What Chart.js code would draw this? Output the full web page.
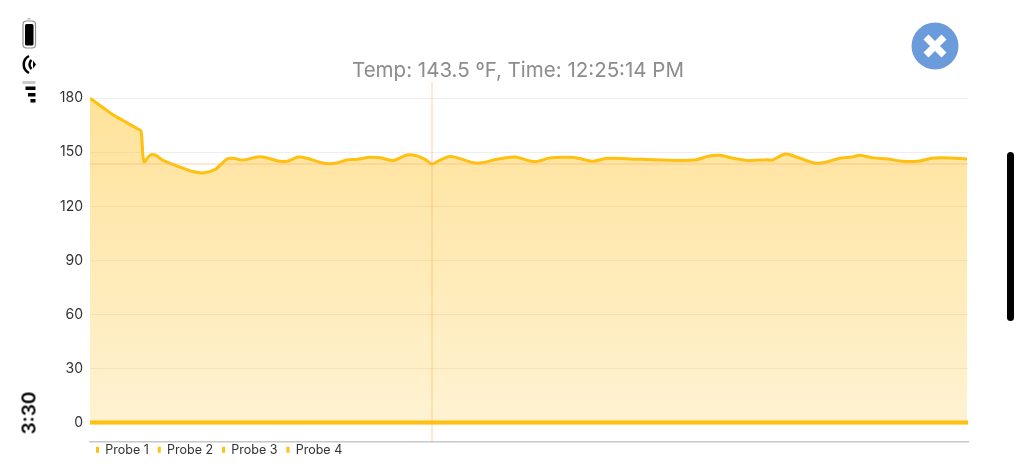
<!DOCTYPE html>
<html>
<head>
<meta charset="utf-8">
<style>
  html, body { margin: 0; padding: 0; background: #fff; overflow: hidden; }
  body { width: 1024px; height: 473px; position: relative; font-family: Inter, sans-serif; }
  #chartWrap { position: absolute; left: 12px; top: 0; width: 1012px; height: 473px; }
  #clock { position: absolute; left: 29px; top: 413px; transform: translate(-50%, -50%) rotate(-90deg); font-size: 19px; font-weight: 600; color: #000; }
  #scrollThumb { position: absolute; left: 1007px; top: 152px; width: 7px; height: 169px; border-radius: 4px; background: #000; }
  .overlay { position: absolute; left: 0; top: 0; }
</style>
<script src="https://cdn.jsdelivr.net/npm/chart.js@4"></script>
</head>
<body>
<div id="chartWrap"><canvas id="tempChart" width="1012" height="473"></canvas></div>
<div id="clock">3:30</div>
<div id="scrollThumb"></div>
<svg class="overlay" width="1024" height="473">
  <rect x="27.5" y="18" width="3" height="1.5" fill="#bbb"/>
  <rect x="23" y="21" width="12.5" height="27" rx="3.5" fill="none" stroke="#8f8f8f" stroke-width="1.2"/>
  <rect x="25" y="24" width="8.5" height="21.5" rx="1.5" fill="#000"/>
  <g fill="none" stroke="#000" stroke-width="2.5">
    <path d="M29 56 A 9.5 9.5 0 0 0 29 73"/>
    <path d="M31.5 60 A 6 6 0 0 0 31.5 69"/>
  </g>
  <path d="M33 60.5 L36 64.5 L33 68.5 Z" fill="#000"/>
  <rect x="22.5" y="81" width="13" height="3" fill="#c9c9c9"/>
  <rect x="25.5" y="86.5" width="10" height="3.5" fill="#000"/>
  <rect x="28" y="93" width="7.5" height="3.5" fill="#000"/>
  <rect x="30.5" y="99" width="5" height="3.5" fill="#000"/>
  <circle cx="935" cy="46" r="23.5" fill="#6c9bdc"/>
  <path d="M926 37 L944 55 M944 37 L926 55" stroke="#fff" stroke-width="7"/>
</svg>
<script>
// elapsed position along the run and probe 1 temperature
const elapsed = [0, 20, 35, 47, 51, 54, 60, 65, 73, 90, 103, 113, 125, 137, 143, 153, 167, 173, 190, 198, 208, 217, 233, 245, 257, 267, 280, 290, 303, 317, 327, 335, 342, 350, 360, 370, 383, 392, 407, 425, 440, 448, 460, 480, 490, 503, 517, 540, 573, 605, 618, 630, 643, 660, 677, 682, 695, 703, 723, 733, 750, 762, 770, 783, 798, 810, 827, 842, 853, 877];
const probe1Values = [180, 172, 167, 163.2, 161.8, 144.8, 148.3, 148.5, 145.5, 141.8, 139.3, 138.5, 140.4, 146.3, 146.7, 145.7, 147.4, 147.4, 145, 145.2, 147.4, 146.7, 144, 143.9, 145.7, 146.1, 147.2, 147, 145.4, 148.5, 148, 146.1, 143.5, 145.7, 147.6, 146.5, 144.2, 144.2, 146.1, 147.4, 145.2, 145, 146.9, 147.2, 146.5, 145, 146.7, 146.3, 145.7, 145.7, 147.8, 148.3, 146.7, 145.4, 145.9, 145.6, 149, 148.1, 144.2, 144.2, 146.7, 147.4, 148.3, 146.9, 146.3, 145.2, 145, 146.7, 146.9, 146.3];
const flatElapsed = [0, 878];
const probe2Values = [0, 0];
const probe3Values = [0, 0];
const probe4Values = [0, 0];
const yTicks = [0, 30, 60, 90, 120, 150, 180];
const yMin = -10.5, yMax = 189;
const cursorElapsed = 342, cursorTemp = 143.5;

const lineColor = '#ffc010';
const cursorColor = 'rgba(255,170,100,0.55)';

function points(xs, ys) {
  return xs.map((x, i) => ({ x: x, y: ys[i] }));
}

function areaGradient(context) {
  const chart = context.chart;
  if (!chart.chartArea) return lineColor;
  const y = chart.scales.y;
  const g = chart.ctx.createLinearGradient(0, y.getPixelForValue(180), 0, y.getPixelForValue(0));
  g.addColorStop(0, 'rgba(255,192,30,0.45)');
  g.addColorStop(1, 'rgba(255,192,30,0.2)');
  return g;
}

const probeLine = { borderColor: lineColor, backgroundColor: lineColor, pointRadius: 0, borderWidth: 3.5, fill: false };
const cursorLine = { borderColor: cursorColor, borderWidth: 1, pointRadius: 0, fill: false };

new Chart(document.getElementById('tempChart'), {
  type: 'line',
  data: {
    datasets: [
      { ...cursorLine, label: 'cursor x', data: points([cursorElapsed, cursorElapsed], [yMin, yMax]) },
      { ...cursorLine, label: 'cursor y', data: points(flatElapsed, [cursorTemp, cursorTemp]) },
      { ...probeLine, label: 'Probe 1', data: points(elapsed, probe1Values), fill: 'origin', backgroundColor: areaGradient, tension: 0.3, borderWidth: 3 },
      { ...probeLine, label: 'Probe 2', data: points(flatElapsed, probe2Values) },
      { ...probeLine, label: 'Probe 3', data: points(flatElapsed, probe3Values) },
      { ...probeLine, label: 'Probe 4', data: points(flatElapsed, probe4Values) }
    ]
  },
  options: {
    responsive: false,
    animation: false,
    layout: { padding: { right: 56, bottom: 0 } },
    plugins: {
      tooltip: { enabled: false },
      title: {
        display: true,
        text: 'Temp: 143.5 ºF, Time: 12:25:14 PM',
        color: '#8c8c8c',
        font: { family: 'Inter', size: 20.5, weight: 'normal' },
        padding: { top: 57, bottom: 0.4 }
      },
      legend: {
        position: 'bottom',
        align: 'start',
        fullSize: false,
        labels: {
          filter: item => item.text.startsWith('Probe'),
          generateLabels: chart => Chart.defaults.plugins.legend.labels.generateLabels(chart).map(item => ({ ...item, lineWidth: 0, fillStyle: lineColor })),
          color: '#333',
          boxWidth: 3,
          boxHeight: 6,
          padding: 9,
          font: { family: 'Inter', size: 12.5 }
        }
      }
    },
    scales: {
      x: {
        type: 'linear',
        min: 0,
        max: 878,
        grid: { display: false },
        ticks: { display: false },
        border: { color: '#c8c8c8', width: 1.5 },
        afterFit: scale => { scale.height = 0; }
      },
      y: {
        min: yMin,
        max: yMax,
        afterBuildTicks: scale => { scale.ticks = yTicks.map(v => ({ value: v })); },
        afterFit: scale => { scale.width = 78; },
        grid: { color: '#eeeeee', drawTicks: false },
        border: { display: false },
        ticks: { color: '#333', padding: 7, font: { family: 'Inter', size: 14 } }
      }
    }
  },
  plugins: [{
    // the reference legend sits tighter and the title off-centre
    id: 'blockNudge',
    afterLayout: chart => {
      chart.legend.left -= 3;
      chart.legend.top -= 7;
      chart.titleBlock.left += 28;
      chart.titleBlock.right += 28;
      chart.titleBlock.top += 2;
    }
  }]
});
</script>
</body>
</html>
